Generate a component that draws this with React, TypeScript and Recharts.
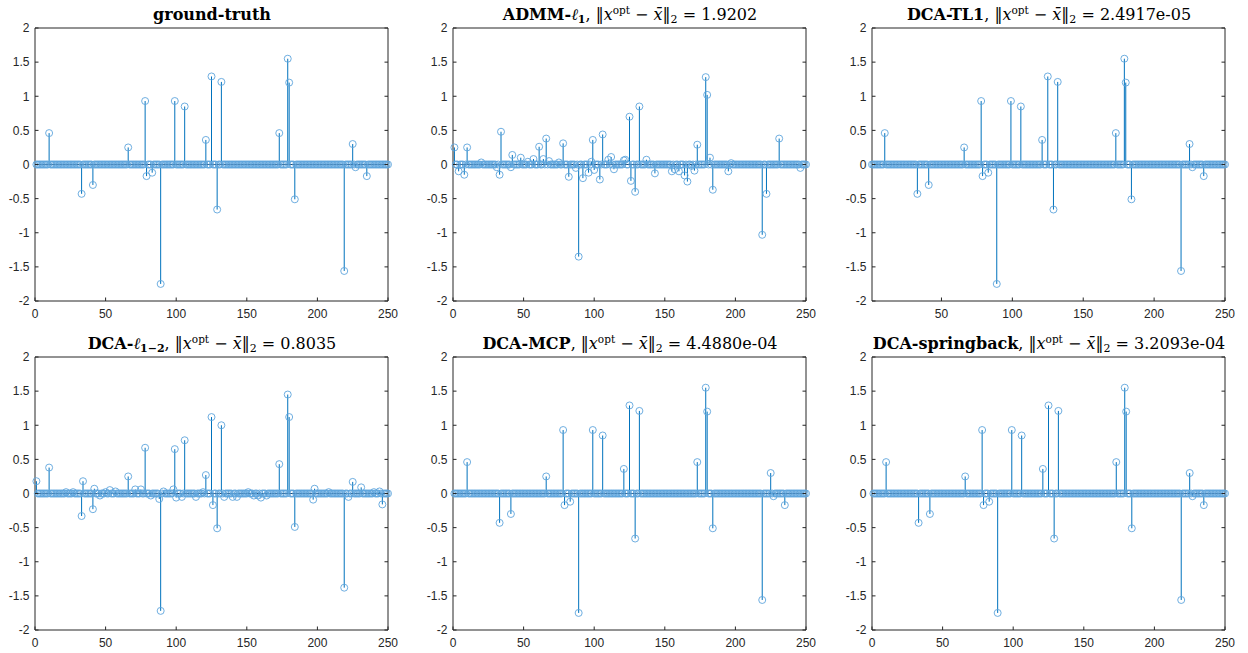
import React from 'react';
import { ScatterChart, Scatter, XAxis, YAxis, ErrorBar, ReferenceLine } from 'recharts';

// ---------- data ----------
const N = 250;
const yTicks = [-2, -1.5, -1, -0.5, 0, 0.5, 1, 1.5, 2];
const xTicksFull = [0, 50, 100, 150, 200, 250];
const xTicksNoZero = [50, 100, 150, 200, 250];

// ground truth
const gtIdx = [10, 33, 41, 66, 78, 79, 83, 89, 99, 106, 121, 125, 129, 132, 173, 179, 180, 184, 219, 225, 227, 235];
const gtVal = [0.46, -0.43, -0.3, 0.25, 0.93, -0.17, -0.12, -1.75, 0.93, 0.85, 0.36, 1.29, -0.66, 1.21, 0.46, 1.55, 1.2, -0.51, -1.56, 0.3, -0.04, -0.17];

const tl1Idx = [10, 33, 41, 66, 78, 79, 83, 89, 99, 106, 121, 125, 129, 132, 173, 179, 180, 184, 219, 225, 227, 235];
const tl1Val = [0.46, -0.43, -0.3, 0.25, 0.93, -0.17, -0.12, -1.75, 0.93, 0.85, 0.36, 1.29, -0.66, 1.21, 0.46, 1.55, 1.2, -0.51, -1.56, 0.3, -0.04, -0.17];

const mcpIdx = [10, 33, 41, 66, 78, 79, 83, 89, 99, 106, 121, 125, 129, 132, 173, 179, 180, 184, 219, 225, 227, 235];
const mcpVal = [0.46, -0.43, -0.3, 0.25, 0.93, -0.17, -0.12, -1.75, 0.93, 0.85, 0.36, 1.29, -0.66, 1.21, 0.46, 1.55, 1.2, -0.51, -1.56, 0.3, -0.04, -0.17];

const sbIdx = [10, 33, 41, 66, 78, 79, 83, 89, 99, 106, 121, 125, 129, 132, 173, 179, 180, 184, 219, 225, 227, 235];
const sbVal = [0.46, -0.43, -0.3, 0.25, 0.93, -0.17, -0.12, -1.75, 0.93, 0.85, 0.36, 1.29, -0.66, 1.21, 0.46, 1.55, 1.2, -0.51, -1.56, 0.3, -0.04, -0.17];

const admmIdx = [1, 4, 8, 10, 20, 31, 33, 34, 41, 42, 48, 53, 57, 61, 64, 66, 68, 75, 78, 82, 87, 89, 92, 96, 98, 99, 100, 104, 106, 110, 112, 114, 121, 122, 125, 126, 129, 132, 137, 143, 155, 157, 160, 164, 166, 169, 171, 173, 179, 180, 182, 184, 195, 197, 219, 222, 231, 246];
const admmVal = [0.25, -0.1, -0.15, 0.25, 0.03, -0.04, -0.15, 0.48, -0.04, 0.14, 0.1, 0.04, 0.08, 0.26, 0.08, 0.38, 0.05, 0.03, 0.31, -0.18, -0.05, -1.35, -0.2, -0.12, 0.04, 0.36, -0.08, -0.22, 0.44, 0.07, 0.11, -0.07, 0.06, 0.07, 0.7, -0.24, -0.4, 0.85, 0.07, -0.13, -0.1, -0.07, -0.1, -0.16, -0.25, -0.02, -0.09, 0.29, 1.28, 1.02, 0.1, -0.37, -0.1, 0.02, -1.03, -0.43, 0.38, -0.05];

const l12Idx = [1, 10, 22, 27, 33, 34, 41, 42, 46, 50, 53, 57, 66, 71, 75, 78, 82, 88, 89, 91, 98, 99, 100, 104, 106, 114, 119, 121, 125, 126, 129, 132, 134, 140, 143, 151, 155, 158, 160, 164, 173, 179, 180, 184, 197, 198, 208, 219, 222, 225, 231, 240, 244, 246];
const l12Val = [0.18, 0.38, 0.02, 0.02, -0.33, 0.18, -0.23, 0.07, -0.03, 0.02, 0.05, 0.03, 0.25, 0.06, 0.06, 0.67, -0.03, -0.08, -1.72, 0.03, 0.06, 0.65, -0.06, -0.05, 0.78, -0.05, 0.02, 0.27, 1.12, -0.17, -0.51, 1.0, -0.05, -0.05, -0.05, 0.02, -0.03, -0.03, -0.06, -0.03, 0.43, 1.45, 1.12, -0.49, -0.09, 0.07, 0.02, -1.38, -0.05, 0.17, 0.09, 0.02, 0.03, -0.16];

const panelNames = ['ground-truth', 'ADMM-', 'DCA-TL1', 'DCA-', 'DCA-MCP', 'DCA-springback'];
const panelEllSub = ['', '1', '', '1\u22122', '', ''];
const panelErr = ['', '1.9202', '2.4917e-05', '0.8035', '4.4880e-04', '3.2093e-04'];

// ---------- styling ----------
const AX = '#262626';
const STEM = '#0072BD';
const MARK = '#5fa5dc';
const BASE = '#1f4a74';
const PW = 353;
const PH = 273;
const AXW = 35;
const AXH = 24;
const MT = 5;
const MR = 16;
const TFS = 16;

function buildSeries(idx: number[], val: number[]) {
  const rows: { x: number; y: number; err: number[] }[] = [];
  for (let i = 1; i <= N; i++) rows.push({ x: i, y: 0, err: [0, 0] });
  idx.forEach((k, j) => {
    const v = val[j];
    rows[k - 1] = { x: k, y: v, err: v >= 0 ? [v, 0] : [0, -v] };
  });
  return rows;
}

const fmt = (v: number) => String(v);

const XTick = (p: any) => (
  <g>
    <line x1={p.x} x2={p.x} y1={p.y} y2={p.y - 3.5} stroke={AX} strokeWidth={1} />
    <text x={p.x} y={p.y + 17} textAnchor="middle" fontSize={12} fontFamily="'Liberation Sans', Arial, sans-serif" fill={AX}>
      {fmt(p.payload.value)}
    </text>
  </g>
);
const YTick = (p: any) => (
  <g>
    <line x1={p.x} x2={p.x + 3.5} y1={p.y} y2={p.y} stroke={AX} strokeWidth={1} />
    <text x={p.x - 5.5} y={p.y + 4.3} textAnchor="end" fontSize={12} fontFamily="'Liberation Sans', Arial, sans-serif" fill={AX}>
      {fmt(p.payload.value)}
    </text>
  </g>
);
const TopTick = (p: any) => <line x1={p.x} x2={p.x} y1={p.y} y2={p.y + 3.5} stroke={AX} strokeWidth={1} />;
const RightTick = (p: any) => <line x1={p.x} x2={p.x - 3.5} y1={p.y} y2={p.y} stroke={AX} strokeWidth={1} />;

const Marker = (p: any) => <circle cx={p.cx} cy={p.cy} r={3.5} fill="none" stroke={MARK} strokeWidth={0.9} />;

function Title({ cx, top, i }: { cx: number; top: number; i: number }) {
  const name = panelNames[i];
  const sub = panelEllSub[i];
  const err = panelErr[i];
  return (
    <svg style={{ position: 'absolute', left: cx - 240, top: top - 30 }} width={480} height={30}>
      <text x={240} y={21.5} textAnchor="middle" fontFamily="'DejaVu Serif', serif" fontSize={TFS} fill="#000" style={{ whiteSpace: 'pre' }}>
        <tspan fontWeight="bold">{name}</tspan>
        {sub ? <tspan fontStyle="italic">{'\u2113'}</tspan> : null}
        {sub ? <tspan fontWeight="bold" fontSize={11} dy={3.5}>{sub}</tspan> : null}
        {sub ? <tspan dy={-3.5}>,</tspan> : null}
        {!sub && err ? <tspan>,</tspan> : null}
        {err ? <tspan>{' \u2016'}</tspan> : null}
        {err ? <tspan fontStyle="italic">x</tspan> : null}
        {err ? <tspan fontSize={10.5} dy={-6}>opt</tspan> : null}
        {err ? <tspan dy={6}>{' \u2212 '}</tspan> : null}
        {err ? <tspan fontStyle="italic">{'x\u0304'}</tspan> : null}
        {err ? <tspan>{'\u2016'}</tspan> : null}
        {err ? <tspan fontSize={11} dy={3.5}>2</tspan> : null}
        {err ? <tspan dy={-3.5}>{' = ' + err}</tspan> : null}
      </text>
    </svg>
  );
}

function Panel({ left, top, i, data, xTicks, xMin }: any) {
  return (
    <>
      <Title cx={left + PW / 2} top={top} i={i} />
      <div style={{ position: 'absolute', left: left - AXW, top: top - MT - 1 }}>
        <ScatterChart width={AXW + PW + 1 + MR} height={MT + 1 + PH + AXH} margin={{ top: MT, right: MR, bottom: 0, left: 0 }}>
          <XAxis xAxisId="main" dataKey="x" type="number" domain={[xMin, 250]} ticks={xTicks} interval={0} height={AXH}
            tickLine={false} tickSize={0} tickMargin={0} axisLine={{ stroke: AX, strokeWidth: 1 }} tick={XTick} />
          <XAxis xAxisId="top" orientation="top" type="number" domain={[xMin, 250]} allowDataOverflow ticks={xTicks} interval={0} height={1}
            tickLine={false} tickSize={0} tickMargin={0} axisLine={{ stroke: AX, strokeWidth: 1 }} tick={TopTick} />
          <YAxis yAxisId="main" dataKey="y" type="number" domain={[-2, 2]} ticks={yTicks} interval={0} width={AXW}
            tickLine={false} tickSize={0} tickMargin={0} axisLine={{ stroke: AX, strokeWidth: 1 }} tick={YTick} />
          <YAxis yAxisId="right" orientation="right" type="number" domain={[-2, 2]} allowDataOverflow ticks={yTicks} interval={0} width={1}
            tickLine={false} tickSize={0} tickMargin={0} axisLine={{ stroke: AX, strokeWidth: 1 }} tick={RightTick} />
          <Scatter xAxisId="main" yAxisId="main" data={data} shape={Marker} isAnimationActive={false}>
            <ErrorBar dataKey="err" direction="y" width={0} stroke={STEM} strokeWidth={1} isAnimationActive={false} />
          </Scatter>
          <ReferenceLine xAxisId="main" yAxisId="main" y={0} stroke={BASE} strokeWidth={1.2} />
        </ScatterChart>
      </div>
    </>
  );
}

const colLeft = [35, 453, 872];
const rowTop = [28, 357];

export default function App() {
  const series = [
    buildSeries(gtIdx, gtVal),
    buildSeries(admmIdx, admmVal),
    buildSeries(tl1Idx, tl1Val),
    buildSeries(l12Idx, l12Val),
    buildSeries(mcpIdx, mcpVal),
    buildSeries(sbIdx, sbVal),
  ];
  return (
    <div style={{ position: 'absolute', left: 0, top: 0, width: 1248, height: 653, background: '#fff', overflow: 'hidden' }}>
      {series.map((d, i) => (
        <Panel key={i} i={i} left={colLeft[i % 3]} top={rowTop[Math.floor(i / 3)]} data={d}
          xTicks={i === 2 ? xTicksNoZero : xTicksFull} xMin={i === 2 ? 1 : 0} />
      ))}
    </div>
  );
}
